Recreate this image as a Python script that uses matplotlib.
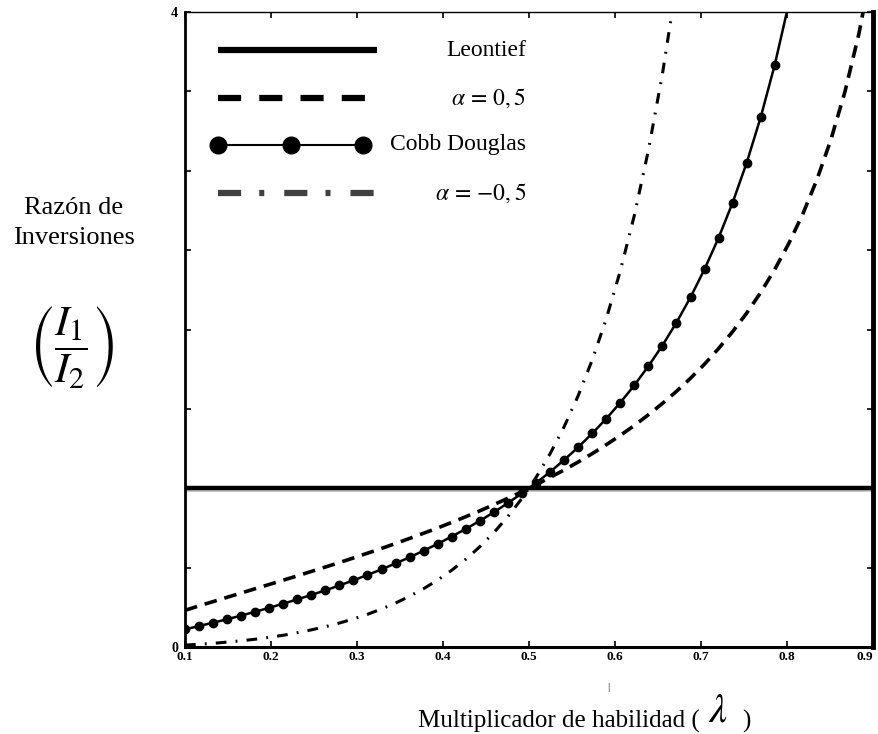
import numpy as np
import matplotlib
matplotlib.use("Agg")
from matplotlib import pyplot as plt
from matplotlib.lines import Line2D

plt.rcParams['font.family'] = ['Liberation Serif', 'DejaVu Serif']
plt.rcParams['mathtext.fontset'] = 'stix'

# skill multiplier (lambda), grid used for the marked curves
lam = [0.1000, 0.1163, 0.1327, 0.1490, 0.1653, 0.1816, 0.1980, 0.2143, 0.2306, 0.2469,
       0.2633, 0.2796, 0.2959, 0.3122, 0.3286, 0.3449, 0.3612, 0.3776, 0.3939, 0.4102,
       0.4265, 0.4429, 0.4592, 0.4755, 0.4918, 0.5082, 0.5245, 0.5408, 0.5571, 0.5735,
       0.5898, 0.6061, 0.6224, 0.6388, 0.6551, 0.6714, 0.6878, 0.7041, 0.7204, 0.7367,
       0.7531, 0.7694, 0.7857, 0.8020, 0.8184, 0.8347, 0.8510, 0.8673, 0.8837, 0.9000]

# investment ratio I1/I2
cobb = [0.111, 0.132, 0.153, 0.175, 0.198, 0.222, 0.247, 0.273, 0.300, 0.328,
        0.357, 0.388, 0.420, 0.454, 0.489, 0.527, 0.565, 0.607, 0.650, 0.696,
        0.744, 0.795, 0.849, 0.907, 0.968, 1.033, 1.103, 1.178, 1.258, 1.345,
        1.438, 1.539, 1.648, 1.769, 1.899, 2.043, 2.203, 2.380, 2.577, 2.798,
        3.050, 3.337, 3.666, 4.051]
alpha_pos = [0.231, 0.259, 0.286, 0.313, 0.340, 0.367, 0.394, 0.421, 0.448, 0.476,
             0.504, 0.532, 0.561, 0.591, 0.621, 0.652, 0.684, 0.717, 0.750, 0.785,
             0.821, 0.858, 0.897, 0.937, 0.978, 1.022, 1.068, 1.115, 1.165, 1.218,
             1.274, 1.333, 1.395, 1.463, 1.534, 1.610, 1.693, 1.782, 1.880, 1.986,
             2.103, 2.233, 2.378, 2.541, 2.728, 2.943, 3.195, 3.496, 3.865, 4.327]
alpha_neg = [0.012, 0.017, 0.023, 0.031, 0.039, 0.049, 0.061, 0.074, 0.090, 0.108,
             0.128, 0.151, 0.177, 0.206, 0.240, 0.277, 0.320, 0.368, 0.422, 0.484,
             0.553, 0.632, 0.721, 0.822, 0.936, 1.068, 1.217, 1.387, 1.582, 1.808,
             2.067, 2.368, 2.717, 3.128, 3.608, 4.175]
leontief = [1.0, 1.0]
leon_x = [0.1, 0.9]

xticks = [0.1, 0.2, 0.3, 0.4, 0.5, 0.6, 0.7, 0.8, 0.9]
yticks = [0, 0.5, 1, 1.5, 2, 2.5, 3, 3.5, 4]
ylabels = ['0', '', '', '', '', '', '', '', '4']

fig = plt.figure(figsize=(8.79, 7.34), dpi=100)
ax = fig.add_axes([185 / 879, 1 - 647 / 734, 688 / 879, 635 / 734])

ax.plot(leon_x, [0.989, 0.989], color='#c4c4c4', lw=2.0, solid_capstyle='butt')
ax.plot(leon_x, leontief, color='black', lw=3.2, solid_capstyle='butt')
ax.plot(lam, alpha_pos, color='black', lw=2.6, dashes=(3.5, 2.2))
ax.plot(lam[:len(cobb)], cobb, color='black', lw=1.8, marker='o', ms=6)
ax.plot(lam[:len(alpha_neg)], alpha_neg, color='black', lw=2.2,
        dashes=(3.5, 3.0, 0.6, 3.0))

ax.set_xlim(0.1, 0.9)
ax.set_ylim(0, 4)
ax.set_xticks(xticks)
ax.set_xticklabels([str(t) for t in xticks], fontweight='bold', fontsize=9.5)
ax.get_xticklabels()[-1].set_horizontalalignment('right')
ax.set_yticks(yticks)
ax.set_yticklabels(ylabels, fontweight='bold', fontsize=10)
ax.tick_params(direction='in', length=4, width=1.2, top=True, right=True, pad=3)
ax.tick_params(axis='y', pad=5)

ax.spines['left'].set_linewidth(2.0)
ax.spines['bottom'].set_linewidth(2.2)
ax.spines['right'].set_linewidth(3.5)
ax.spines['top'].set_linewidth(1.0)

# legend drawn by hand (long handles, right aligned labels)
rows = [0.940, 0.865, 0.791, 0.715]
lab_x = 0.496
ax.add_line(Line2D([0.048, 0.279], [rows[0]] * 2, transform=ax.transAxes, color='black',
                   lw=4.5, solid_capstyle='butt'))
ax.add_line(Line2D([0.048, 0.265], [rows[1]] * 2, transform=ax.transAxes, color='black',
                   lw=4.5, dashes=(3.7, 2.9)))
ax.add_line(Line2D([0.048, 0.1535, 0.259], [rows[2]] * 3, transform=ax.transAxes,
                   color='black', lw=1.5, marker='o', ms=12))
ax.add_line(Line2D([0.048, 0.279], [rows[3]] * 2, transform=ax.transAxes, color='#404040',
                   lw=4.5, dashes=(3.7, 2.9, 0.8, 3.2)))

fs = 17
ax.text(lab_x, rows[0], 'Leontief', transform=ax.transAxes, ha='right', va='center', fontsize=fs)
ax.text(lab_x, rows[1], r'$\alpha\,=\,0,5$', transform=ax.transAxes, ha='right', va='center',
        fontsize=fs)
ax.text(lab_x, rows[2], 'Cobb Douglas', transform=ax.transAxes, ha='right', va='center', fontsize=fs)
ax.text(lab_x, rows[3], r'$\alpha\,=\,{-}0,5$', transform=ax.transAxes, ha='right', va='center',
        fontsize=fs)

# y axis title
fig.text(74 / 879, 1 - 208 / 734, 'Razón de', ha='center', va='center', fontsize=19)
fig.text(74 / 879, 1 - 238 / 734, 'Inversiones', ha='center', va='center', fontsize=19)
fig.text(72 / 879, 1 - 347 / 734, r'$\left(\dfrac{I_1}{I_2}\right)$', ha='center', va='center',
         fontsize=31)

# x axis title
fig.text(700 / 879, 1 - 721 / 734, 'Multiplicador de habilidad (', ha='right', va='center',
         fontsize=18)
fig.text(718 / 879, 1 - 712 / 734, r'$\lambda$', ha='center', va='center', fontsize=29)
fig.text(742 / 879, 1 - 721 / 734, ')', ha='left', va='center', fontsize=18)
fig.text(608 / 879, 1 - 688 / 734, '|', ha='center', va='center', fontsize=8)

fig.savefig('out.png', dpi=100)
